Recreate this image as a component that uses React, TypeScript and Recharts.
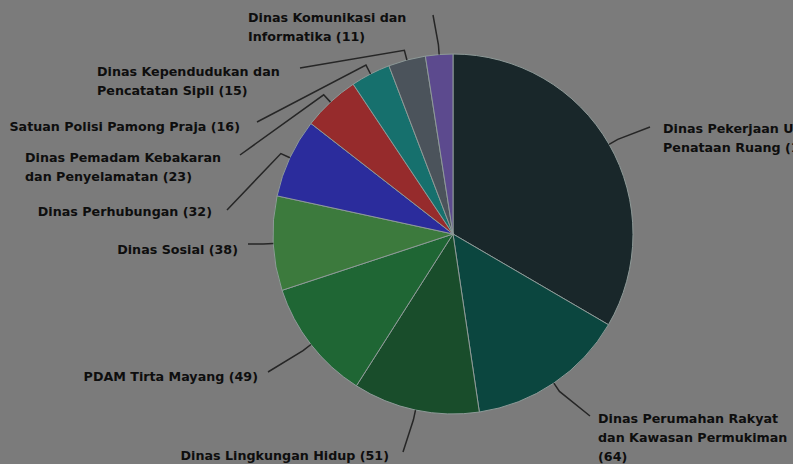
import React from 'react';
import { PieChart, Pie, Cell } from 'recharts';

const agencies = [
  'Dinas Pekerjaan Umum dan Penataan Ruang',
  'Dinas Perumahan Rakyat dan Kawasan Permukiman',
  'Dinas Lingkungan Hidup',
  'PDAM Tirta Mayang',
  'Dinas Sosial',
  'Dinas Perhubungan',
  'Dinas Pemadam Kebakaran dan Penyelamatan',
  'Satuan Polisi Pamong Praja',
  'Dinas Kependudukan dan Pencatatan Sipil',
  'Dinas Komunikasi dan Informatika',
];

const counts = [150, 64, 51, 49, 38, 32, 23, 16, 15, 11];

// where each label wraps (number of words on each line, the value goes at the end)
const wrapWords = [[4], [3, 3], [], [], [], [], [3], [], [3], [3]];

const colors = [
  '#19272a', '#0b463f', '#194d2b', '#1f6634', '#3c7a3d',
  '#2b2c9c', '#962b2c', '#16706d', '#4b535b', '#5c4a8e',
];

const data = agencies.map((name, i) => ({ name, value: counts[i] }));

// label placement relative to the pie centre: connector end (ax, ay), text x, first line y
const labelLayout = [
  { ax: 197, ay: -107, tx: 210, ty: -106, side: 'start' },
  { ax: 137, ay: 182, tx: 145, ty: 184, side: 'start' },
  { ax: -50, ay: 218, tx: -64, ty: 221, side: 'end' },
  { ax: -185, ay: 138, tx: -195, ty: 142, side: 'end' },
  { ax: -205, ay: 10, tx: -215, ty: 15, side: 'end' },
  { ax: -226, ay: -24, tx: -241, ty: -23, side: 'end' },
  { ax: -213, ay: -79, tx: -428, ty: -77, side: 'start' },
  { ax: -196, ay: -112, tx: -213, ty: -108, side: 'end' },
  { ax: -153, ay: -166, tx: -356, ty: -163, side: 'start' },
  { ax: -20, ay: -219, tx: -205, ty: -217, side: 'start' },
];

const RAD = Math.PI / 180;

const splitLines = (i: number) => {
  const words = `${agencies[i]} (${counts[i]})`.split(' ');
  const lines: string[] = [];
  let pos = 0;
  for (const n of wrapWords[i]) {
    lines.push(words.slice(pos, pos + n).join(' '));
    pos += n;
  }
  lines.push(words.slice(pos).join(' '));
  return lines;
};

const renderLabel = (props: any) => {
  const { cx, cy, midAngle, outerRadius, index } = props;
  const cos = Math.cos(-midAngle * RAD);
  const sin = Math.sin(-midAngle * RAD);
  const sx = cx + outerRadius * cos;
  const sy = cy + outerRadius * sin;
  const mx = cx + (outerRadius + 10) * cos;
  const my = cy + (outerRadius + 10) * sin;
  const l = labelLayout[index];
  const ex = cx + l.ax;
  const ey = cy + l.ay;
  const lines = splitLines(index);
  return (
    <g key={`lbl-${index}`}>
      <path
        d={`M${sx},${sy} L${mx},${my} L${ex},${ey}`}
        stroke="#262626"
        strokeWidth={1.5}
        fill="none"
      />
      <text
        x={cx + l.tx}
        y={cy + l.ty}
        textAnchor={l.side}
        dominantBaseline="central"
        fill="#0e0e0e"
        fontSize={12.7}
        fontWeight="bold"
        fontFamily="DejaVu Sans, sans-serif"
      >
        {lines.map((t, k) => (
          <tspan key={k} x={cx + l.tx} dy={k === 0 ? 0 : 19}>
            {t}
          </tspan>
        ))}
      </text>
    </g>
  );
};

const App: React.FC = () => {
  return (
    <div
      style={{
        position: 'fixed',
        left: 0,
        top: 0,
        width: 793,
        height: 464,
        background: '#7b7b7b',
        overflow: 'hidden',
      }}
    >
      <PieChart width={793} height={464} margin={{ top: 0, right: 0, bottom: 0, left: 0 }}>
        <Pie
          data={data}
          dataKey="value"
          nameKey="name"
          cx={453}
          cy={234}
          outerRadius={180}
          startAngle={90}
          endAngle={-270}
          stroke="#8e9a98"
          strokeWidth={1}
          label={renderLabel}
          labelLine={false}
          isAnimationActive={false}
        >
          {data.map((d, i) => (
            <Cell key={d.name} fill={colors[i]} />
          ))}
        </Pie>
      </PieChart>
    </div>
  );
};

export default App;
